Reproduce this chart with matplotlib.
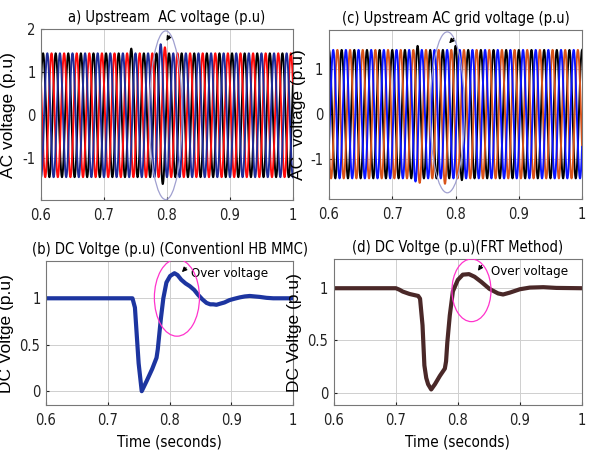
import numpy as np
import matplotlib
matplotlib.use("Agg")
import matplotlib.pyplot as plt
from matplotlib.patches import Ellipse

# %%
# values

# upstream AC voltages: 50 Hz three-phase, amplitude and peak times
f_hz = 50.0
amp_a = 1.44
peak_time_a = {"blue": 0.7900, "red": 0.7967, "black": 0.8033}
# (phase, time, local peak value) of the disturbed half cycles
overrides_a = [
    ("black", 0.7433, 1.55),
    ("blue", 0.7900, 1.65),
    ("red", 0.7967, 1.58),
    ("black", 0.7933, -1.60),
]

amp_c = 1.43
peak_time_c = {"blue": 0.7867, "orange": 0.7933, "black": 0.8000}
overrides_c = [
    ("black", 0.7400, 1.52),
    ("blue", 0.7367, -1.50),
    ("orange", 0.7433, -1.53),
    ("orange", 0.7833, -1.55),
    ("black", 0.8000, 1.52),
    ("black", 0.8100, -1.47),
]

# DC voltage, conventional HB MMC
t_b = [0.600, 0.700, 0.740, 0.744, 0.747, 0.750, 0.755, 0.763, 0.772, 0.779,
       0.781, 0.786, 0.790, 0.795, 0.801, 0.808, 0.813, 0.819, 0.826, 0.833,
       0.840, 0.846, 0.853, 0.860, 0.866, 0.871, 0.876, 0.881, 0.889, 0.897,
       0.905, 0.914, 0.922, 0.930, 0.938, 0.946, 0.957, 0.968, 0.985, 1.000]
v_b = [1.000, 1.000, 1.000, 0.900, 0.600, 0.300, 0.000, 0.110, 0.240, 0.360,
       0.450, 0.780, 1.000, 1.170, 1.240, 1.270, 1.250, 1.200, 1.160, 1.130,
       1.090, 1.040, 0.990, 0.950, 0.935, 0.935, 0.930, 0.940, 0.955, 0.980,
       0.995, 1.010, 1.020, 1.025, 1.020, 1.015, 1.005, 1.000, 1.000, 1.000]

# DC voltage, FRT method
t_d = [0.600, 0.700, 0.706, 0.711, 0.722, 0.736, 0.739, 0.743, 0.746, 0.749,
       0.752, 0.757, 0.763, 0.771, 0.779, 0.781, 0.783, 0.787, 0.792, 0.800,
       0.808, 0.818, 0.827, 0.838, 0.851, 0.865, 0.873, 0.884, 0.900, 0.916,
       0.938, 0.959, 1.000]
v_d = [1.000, 1.000, 0.985, 0.968, 0.945, 0.926, 0.900, 0.645, 0.260, 0.140,
       0.080, 0.030, 0.080, 0.160, 0.230, 0.300, 0.480, 0.740, 0.970, 1.080,
       1.130, 1.135, 1.110, 1.060, 0.994, 0.950, 0.940, 0.958, 0.990, 1.006,
       1.010, 1.003, 1.000]

x_ticks = [0.6, 0.7, 0.8, 0.9, 1.0]
x_tick_labels = ["0.6", "0.7", "0.8", "0.9", "1"]

# %%
colors_a = {"blue": "#1f2c9a", "red": "#ff0a0a", "black": "#000000"}
colors_c = {"blue": "#0a14ff", "orange": "#d95319", "black": "#000000"}

plt.rcParams["font.family"] = ["Liberation Sans Narrow", "DejaVu Sans"]
plt.rcParams["font.stretch"] = "condensed"
label_font = dict(family=["Liberation Sans", "DejaVu Sans"], stretch="normal",
                  fontsize=12.5)
title_size = 10.5
tick_size = 10.5

t = np.linspace(0.6, 1.0, 8001)
w = 2 * np.pi * f_hz


def phase_wave(tp, amp, overrides, name):
    arg = w * (t - tp)
    v = amp * np.cos(arg)
    half = np.floor((arg + np.pi / 2) / np.pi)
    for ph, t0, pk in overrides:
        if ph != name:
            continue
        k = np.floor((w * (t0 - tp) + np.pi / 2) / np.pi)
        v[half == k] *= abs(pk) / amp
    return v


def style_axes(ax, ylim, yticks, yticklabels):
    ax.set_xlim(0.6, 1.0)
    ax.set_ylim(*ylim)
    ax.set_xticks(x_ticks)
    ax.set_xticklabels(x_tick_labels)
    ax.set_yticks(yticks)
    ax.set_yticklabels(yticklabels)
    ax.grid(True, color="#cfcfcf", lw=0.7)
    ax.set_axisbelow(True)
    ax.tick_params(direction="in", length=2, labelsize=tick_size, pad=4,
                   colors="#222222")
    ax.tick_params(axis="x", pad=6)
    for s in ax.spines.values():
        s.set_color("#777777")
        s.set_linewidth(0.8)


fig = plt.figure(figsize=(5.9, 4.63), dpi=100)
ax_a = fig.add_axes([0.0695, 0.568, 0.427, 0.369])
ax_c = fig.add_axes([0.5576, 0.570, 0.429, 0.365])
ax_b = fig.add_axes([0.078, 0.125, 0.4186, 0.311])
ax_d = fig.add_axes([0.566, 0.125, 0.420, 0.3156])

# (a)
for name in ["black", "red", "blue"]:
    ax_a.plot(t, phase_wave(peak_time_a[name], amp_a, overrides_a, name),
              color=colors_a[name], lw=1.4)
style_axes(ax_a, (-1.97, 2.0), [-1, 0, 1, 2], ["-1", "0", "1", "2"])
ax_a.add_patch(Ellipse((0.798, 0.0), 0.052, 3.92, fill=False,
                       ec="#a0a0d0", lw=0.9, zorder=5))
ax_a.annotate("", xy=(0.797, 1.67), xytext=(0.806, 1.9),
              arrowprops=dict(arrowstyle="-|>", color="k", lw=0.8,
                              mutation_scale=7), zorder=6)
ax_a.set_title("a) Upstream  AC voltage (p.u)", fontsize=title_size, pad=5)
ax_a.set_ylabel("AC voltage (p.u)", **label_font)
ax_a.yaxis.set_label_coords(-0.099, 0.5)

# (c)
for name in ["black", "orange", "blue"]:
    ax_c.plot(t, phase_wave(peak_time_c[name], amp_c, overrides_c, name),
              color=colors_c[name], lw=1.4)
style_axes(ax_c, (-1.89, 1.87), [-1, 0, 1], ["-1", "0", "1"])
ax_c.add_patch(Ellipse((0.787, 0.04), 0.054, 3.58, fill=False,
                       ec="#a0a0d0", lw=0.9, zorder=5))
ax_c.annotate("", xy=(0.787, 1.53), xytext=(0.800, 1.73),
              arrowprops=dict(arrowstyle="-|>", color="k", lw=0.8,
                              mutation_scale=7), zorder=6)
ax_c.set_title("(c) Upstream AC grid voltage (p.u)", fontsize=title_size, pad=5)
ax_c.set_ylabel("AC  voltage (p.u)", **label_font)
ax_c.yaxis.set_label_coords(-0.091, 0.5)

# (b)
ax_b.plot(t_b, v_b, color="#1d35a0", lw=3)
style_axes(ax_b, (-0.15, 1.4), [0, 0.5, 1], ["0", "0.5", "1"])
ax_b.add_patch(Ellipse((0.812, 1.007), 0.073, 0.83, fill=False,
                       ec="#ff33cc", lw=0.9, zorder=5))
ax_b.annotate("", xy=(0.817, 1.26), xytext=(0.830, 1.35),
              arrowprops=dict(arrowstyle="-|>", color="k", lw=0.8,
                              mutation_scale=7), zorder=6)
ax_b.text(0.835, 1.27, "Over voltage", fontsize=9.5, va="center")
ax_b.set_title("(b) DC Voltge (p.u) (Conventionl HB MMC)", fontsize=title_size,
               pad=5)
ax_b.set_ylabel("DC Voltge (p.u)", **label_font)
ax_b.yaxis.set_label_coords(-0.13, 0.5)
ax_b.set_xlabel("Time (seconds)", fontsize=11, labelpad=4)

# (d)
ax_d.plot(t_d, v_d, color="#4a2828", lw=3)
style_axes(ax_d, (-0.12, 1.28), [0, 0.5, 1], ["0", "0.5", "1"])
ax_d.add_patch(Ellipse((0.822, 0.98), 0.063, 0.60, fill=False,
                       ec="#ff33cc", lw=0.9, zorder=5))
ax_d.annotate("", xy=(0.830, 1.145), xytext=(0.841, 1.24),
              arrowprops=dict(arrowstyle="-|>", color="k", lw=0.8,
                              mutation_scale=7), zorder=6)
ax_d.text(0.854, 1.16, "Over voltage", fontsize=9.5, va="center")
ax_d.set_title("(d) DC Voltge (p.u)(FRT Method)", fontsize=title_size, pad=5)
ax_d.set_ylabel("DC Voltge (p.u)", **label_font)
ax_d.yaxis.set_label_coords(-0.129, 0.5)
ax_d.set_xlabel("Time (seconds)", fontsize=11, labelpad=4)

fig.savefig("out.png", dpi=100)
